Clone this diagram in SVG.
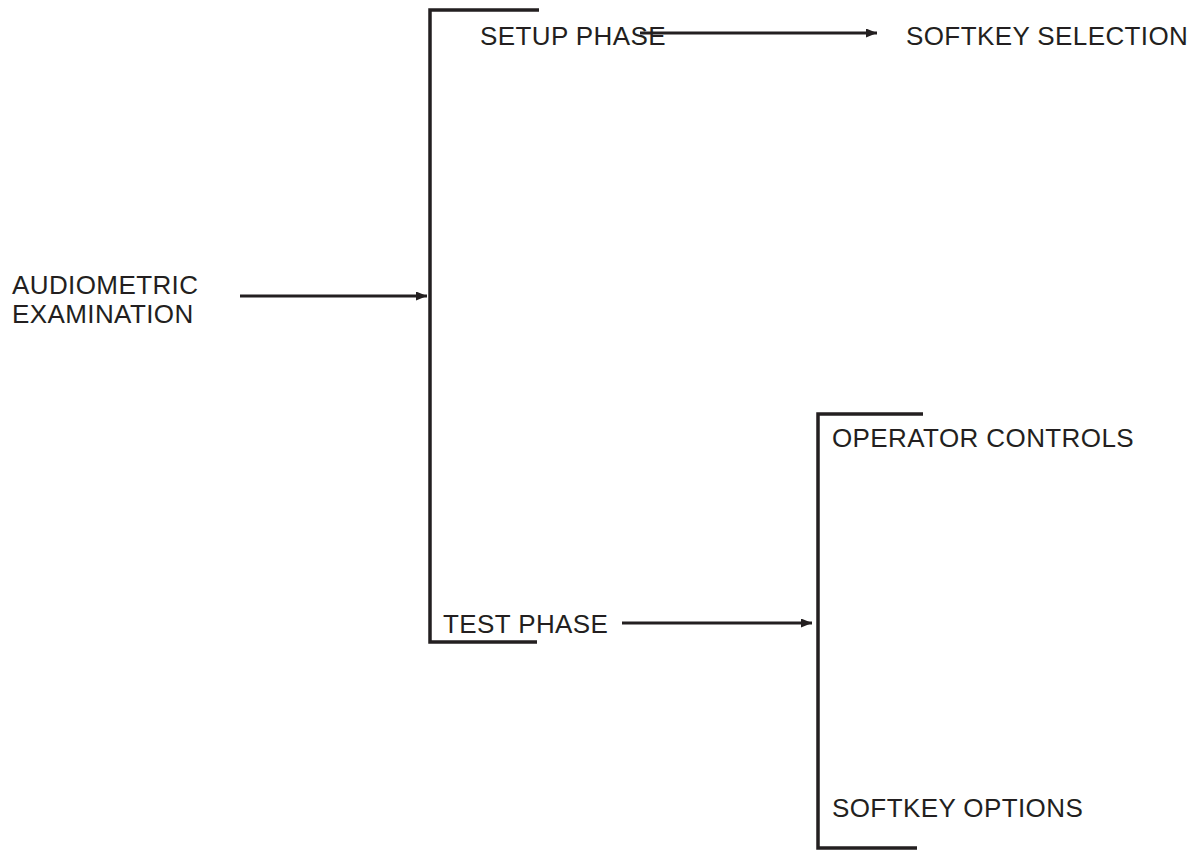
<svg xmlns="http://www.w3.org/2000/svg" width="1200" height="850" viewBox="0 0 1200 850">
<style>
  text { font-family: "Liberation Sans", Arial, sans-serif; font-size: 26px; letter-spacing: 0.4px; fill: #231f20; }
  .br { fill: none; stroke: #231f20; stroke-width: 3.5; }
  .ar { fill: none; stroke: #231f20; stroke-width: 3; marker-end: url(#ah); }
</style>
<defs>
  <marker id="ah" viewBox="0 0 11 9" refX="11" refY="4.5" markerWidth="11" markerHeight="9" markerUnits="userSpaceOnUse" orient="auto">
    <path d="M0,0 L11,4.5 L0,9 Z" fill="#231f20"/>
  </marker>
</defs>
<rect width="1200" height="850" fill="#fff"/>
<g id="audiometric-examination">
  <text x="12" y="294">AUDIOMETRIC</text>
  <text x="12" y="323">EXAMINATION</text>
</g>
<g id="phase-bracket">
  <path class="br" d="M539,10 H430 V642 H537"/>
</g>
<g id="setup-phase"><text x="480" y="45">SETUP PHASE</text></g>
<g id="softkey-selection"><text x="906" y="45">SOFTKEY SELECTION</text></g>
<g id="test-phase"><text x="443" y="633">TEST PHASE</text></g>
<g id="test-bracket">
  <path class="br" d="M923,414 H818 V848 H917"/>
</g>
<g id="operator-controls"><text x="832" y="447">OPERATOR CONTROLS</text></g>
<g id="softkey-options"><text x="832" y="817">SOFTKEY OPTIONS</text></g>
<g id="connectors">
  <line class="ar" x1="240" y1="296" x2="427" y2="296"/>
  <line class="ar" x1="640" y1="33" x2="877" y2="33"/>
  <line class="ar" x1="622" y1="623" x2="812" y2="623"/>
</g>
</svg>
